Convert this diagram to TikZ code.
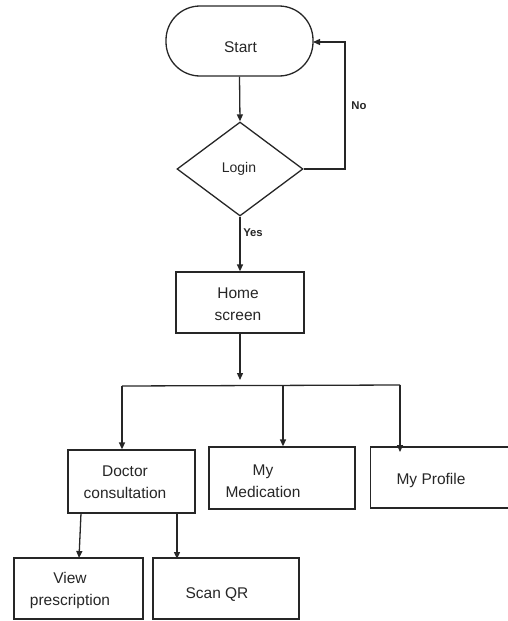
\documentclass[tikz,border=0pt]{standalone}
\usepackage{fontspec}
\setmainfont{Liberation Sans}
\usetikzlibrary{shapes.geometric,arrows.meta}
\begin{document}
\begin{tikzpicture}[x=1pt,y=-1pt,
  box/.style={draw=black!85, line width=1.3pt, inner sep=0pt},
  txt/.style={align=center, inner sep=0pt, font=\fontsize{15.5}{22}\selectfont, text=black!85},
  lbl/.style={inner sep=0pt, font=\bfseries\fontsize{11.3}{13}\selectfont, text=black!85},
  arr/.style={draw=black!85, line width=1.3pt, -{Triangle[length=7pt,width=6pt]}},
  ln/.style={draw=black!85, line width=1.3pt}]
\useasboundingbox (0,0) rectangle (508,621);
% nodes
\node[box, rounded corners=34pt, minimum width=147pt, minimum height=70pt] (start) at (239.5,41) {};
\node[txt] (starttxt) at (240.5,47) {Start};
\node[box, diamond, minimum width=126pt, minimum height=94pt] (login) at (240,169) {};
\node[txt, font=\fontsize{14}{16}\selectfont] (logintxt) at (239,169) {Login};
\node[box, minimum width=128pt, minimum height=61pt] (home) at (240,302.5) {};
\node[txt] (hometxt) at (238,304.5) {Home\\screen};
\node[box, minimum width=127pt, minimum height=63pt] (doc) at (131.5,481.5) {};
\node[txt] (doctxt) at (125,482) {Doctor\\consultation};
\node[box, minimum width=146pt, minimum height=62pt] (med) at (282,478) {};
\node[txt] (medtxt) at (263,481) {My\\Medication};
\node[box, minimum width=138pt, minimum height=61pt] (prof) at (439.5,477.5) {};
\node[txt] (proftxt) at (431,480) {My Profile};
\node[box, minimum width=129pt, minimum height=61pt] (view) at (78.5,588.5) {};
\node[txt] (viewtxt) at (70,590) {View\\prescription};
\node[box, minimum width=146pt, minimum height=61pt] (scan) at (226,588.5) {};
\node[txt] (scantxt) at (217,595) {Scan QR};
% coordinates
\coordinate (nocorner1) at (345,169);
\coordinate (nocorner2) at (345,42);
\coordinate (startright) at (313,42);
\coordinate (hb) at (240,380);
\coordinate (bl) at (122,386);
\coordinate (bm) at (283,385);
\coordinate (br) at (400,385);
\coordinate (dl) at (81,513);
\coordinate (dr) at (177,513);
% connectors
\draw[arr] (start.south) -- (login.north);
\draw[arr] (login.east) -- (nocorner1) -- (nocorner2) -- (startright);
\node[lbl] (nolbl) at (359,106) {No};
\draw[arr] (login.south) -- (home.north);
\node[lbl] (yeslbl) at (253,233) {Yes};
\draw[arr] (home.south) -- (hb);
\draw[ln] (bl) -- (br);
\draw[arr] (bl) -- (bl |- doc.north);
\draw[arr] (bm) -- (bm |- med.north);
\draw[arr] (br) -- (400,452);
\draw[arr] (dl) -- (79,558);
\draw[arr] (dr) -- (177,559);
\end{tikzpicture}
\end{document}
